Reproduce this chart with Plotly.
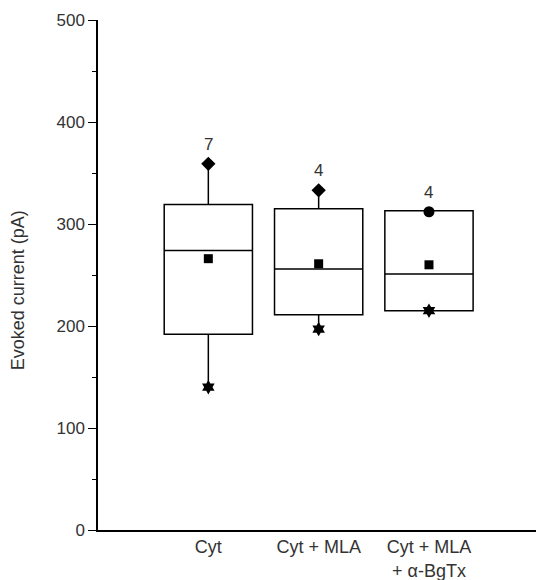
import plotly.graph_objects as go

categories = ["Cyt", "Cyt + MLA", "Cyt + MLA<br>+ α-BgTx"]
q1 = [192, 211, 215]
median = [274, 256, 251]
q3 = [319, 315, 313]
min_vals = [140, 197, 215]
max_vals = [359, 333, 312]
means = [266, 261, 260]
n_counts = ["7", "4", "4"]
max_symbols = ["diamond", "diamond", "circle"]

fig = go.Figure()

fig.add_trace(go.Box(
    x=categories,
    q1=q1, median=median, q3=q3,
    lowerfence=min_vals, upperfence=max_vals,
    fillcolor="rgba(0,0,0,0)",
    line=dict(color="black", width=1.5),
    whiskerwidth=0,
    width=0.8,
    boxpoints=False,
    showlegend=False,
))

fig.add_trace(go.Scatter(
    x=categories, y=max_vals, mode="markers",
    marker=dict(symbol=max_symbols, size=11, color="black"),
    showlegend=False,
))
fig.add_trace(go.Scatter(
    x=categories, y=min_vals, mode="markers",
    marker=dict(symbol="hexagram", size=11, color="black"),
    showlegend=False,
))
fig.add_trace(go.Scatter(
    x=categories, y=means, mode="markers",
    marker=dict(symbol="square", size=9, color="black"),
    showlegend=False,
))

for c, m, n in zip(categories, max_vals, n_counts):
    fig.add_annotation(x=c, y=m, text=n, showarrow=False, yanchor="bottom",
                       yshift=8, font=dict(size=17, color="#333"))

fig.add_annotation(xref="paper", yref="paper", x=-0.21, y=0.47,
                   text="Evoked current (pA)", textangle=-90, showarrow=False,
                   font=dict(size=18, color="#333"))

fig.update_layout(
    width=536, height=580,
    margin=dict(l=98, r=0, t=20, b=50),
    plot_bgcolor="white", paper_bgcolor="white",
    font=dict(family="Liberation Sans, Arial, sans-serif", color="#333", size=17),
    xaxis=dict(
        range=[-1, 2.97], showline=True, linecolor="black", linewidth=1.5,
        ticks="", showgrid=False, zeroline=False,
        tickfont=dict(size=18),
    ),
    yaxis=dict(
        range=[0, 500], showline=True, linecolor="black", linewidth=1.5,
        ticks="outside", ticklen=8, tickwidth=1.3, tickcolor="black",
        tickvals=[0, 100, 200, 300, 400, 500],
        minor=dict(ticks="outside", ticklen=4, tickwidth=1.3, tickcolor="black", dtick=50, showgrid=False),
        showgrid=False, zeroline=False,
        tickfont=dict(size=17),
    ),
)

fig.write_html("out.html")
